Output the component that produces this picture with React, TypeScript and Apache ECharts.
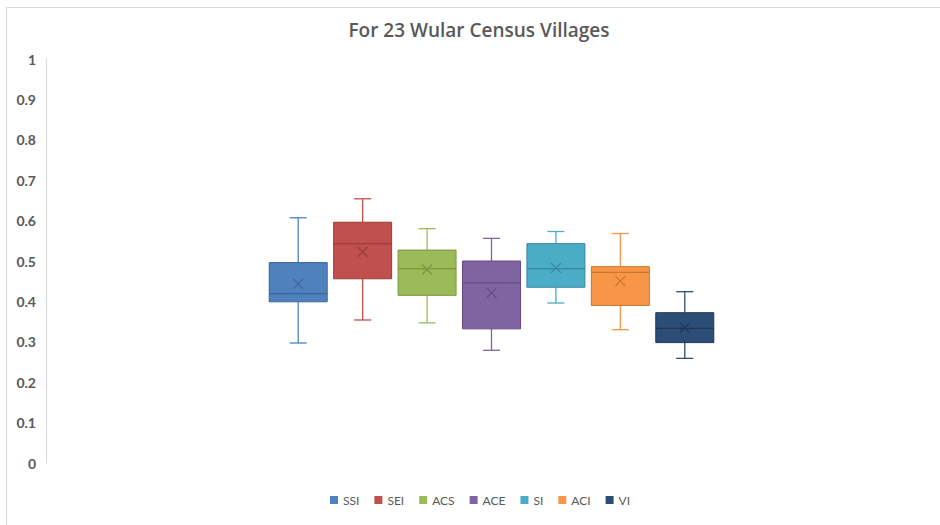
import React, { useEffect, useRef } from "react";
import * as echarts from "echarts";

const categories = ["SSI", "SEI", "ACS", "ACE", "SI", "ACI", "VI"];
// [min, q1, median, q3, max, mean]
const minValues = [0.297, 0.354, 0.347, 0.279, 0.396, 0.330, 0.259];
const q1Values = [0.399, 0.456, 0.415, 0.332, 0.435, 0.390, 0.298];
const medianValues = [0.419, 0.543, 0.481, 0.446, 0.481, 0.472, 0.333];
const q3Values = [0.496, 0.596, 0.527, 0.500, 0.543, 0.486, 0.372];
const maxValues = [0.607, 0.654, 0.580, 0.556, 0.573, 0.568, 0.424];
const meanValues = [0.444, 0.523, 0.479, 0.421, 0.483, 0.450, 0.335];
const yTicks = [0, 0.1, 0.2, 0.3, 0.4, 0.5, 0.6, 0.7, 0.8, 0.9, 1];

const fillColors = ["#4F81BD", "#C0504D", "#9BBB59", "#8064A2", "#4BACC6", "#F79646", "#2C4D75"];
const darkColors = ["#3A6597", "#9D3B38", "#7A9642", "#634B82", "#35889E", "#C9762F", "#1E3654"];

export default function App() {
  const ref = useRef<HTMLDivElement>(null);
  useEffect(() => {
    if (!ref.current) return;
    const chart = echarts.init(ref.current, null, { renderer: "svg" });
    const series: any[] = categories.map((name, i) => ({
      name,
      type: "custom",
      itemStyle: { color: fillColors[i], borderColor: darkColors[i] },
      encode: { x: 0, y: [1, 2, 3, 4, 5, 6] },
      data: [[i, minValues[i], q1Values[i], medianValues[i], q3Values[i], maxValues[i], meanValues[i]]],
      renderItem: (params: any, api: any) => {
        const idx = api.value(0);
        const cx = api.coord([idx, 0])[0];
        const band = api.size([1, 0])[0];
        const w = band * 0.9;
        const yMin = api.coord([idx, api.value(1)])[1];
        const yQ1 = api.coord([idx, api.value(2)])[1];
        const yMed = api.coord([idx, api.value(3)])[1];
        const yQ3 = api.coord([idx, api.value(4)])[1];
        const yMax = api.coord([idx, api.value(5)])[1];
        const yMean = api.coord([idx, api.value(6)])[1];
        const c = fillColors[i];
        const d = darkColors[i];
        const cap = 8.5;
        const xs = 5;
        const lw = 1.3;
        return {
          type: "group",
          children: [
            { type: "line", shape: { x1: cx, y1: yMax, x2: cx, y2: yQ3 }, style: { stroke: c, lineWidth: lw } },
            { type: "line", shape: { x1: cx, y1: yQ1, x2: cx, y2: yMin }, style: { stroke: c, lineWidth: lw } },
            { type: "line", shape: { x1: cx - cap, y1: yMax, x2: cx + cap, y2: yMax }, style: { stroke: c, lineWidth: lw } },
            { type: "line", shape: { x1: cx - cap, y1: yMin, x2: cx + cap, y2: yMin }, style: { stroke: c, lineWidth: lw } },
            { type: "rect", shape: { x: cx - w / 2, y: yQ3, width: w, height: yQ1 - yQ3 }, style: { fill: c, stroke: d, lineWidth: 1 } },
            { type: "line", shape: { x1: cx - w / 2, y1: yMed, x2: cx + w / 2, y2: yMed }, style: { stroke: d, lineWidth: 1.3 } },
            { type: "line", shape: { x1: cx - xs, y1: yMean - xs, x2: cx + xs, y2: yMean + xs }, style: { stroke: d, lineWidth: 1.2 } },
            { type: "line", shape: { x1: cx - xs, y1: yMean + xs, x2: cx + xs, y2: yMean - xs }, style: { stroke: d, lineWidth: 1.2 } },
          ],
        };
      },
    }));

    chart.setOption({
      animation: false,
      backgroundColor: "#ffffff",
      textStyle: { fontFamily: "Lato" },
      title: {
        text: "For 23 Wular Census Villages",
        left: 474,
        textAlign: "center",
        top: 15,
        textStyle: { fontFamily: "Open Sans", fontSize: 19, fontWeight: 600, color: "#595959" },
      },
      legend: {
        data: categories,
        top: 489,
        left: 325,
        icon: "rect",
        itemWidth: 8,
        itemHeight: 8,
        itemGap: 15,
        textStyle: { fontFamily: "Lato", fontSize: 12, color: "#595959" },
      },
      grid: { left: 266, right: 223, top: 59, bottom: 62 },
      xAxis: {
        type: "category",
        data: categories,
        axisLine: { show: false },
        axisTick: { show: false },
        axisLabel: { show: false },
        splitLine: { show: false },
      },
      yAxis: {
        type: "value",
        min: yTicks[0],
        max: yTicks[yTicks.length - 1],
        interval: 0.1,
        offset: 220,
        axisLine: { show: true, lineStyle: { color: "#D9D9D9", width: 1 } },
        axisTick: { show: false },
        splitLine: { show: false },
        axisLabel: {
          margin: 10,
          fontFamily: "Lato",
          fontSize: 14,
          fontWeight: "bold",
          color: "#595959",
          formatter: (v: number) => String(Math.round(v * 10) / 10),
        },
      },
      graphic: [
        { type: "line", shape: { x1: 6, y1: 7.5, x2: 940, y2: 7.5 }, style: { stroke: "#D9D9D9", lineWidth: 1 } },
        { type: "line", shape: { x1: 6.5, y1: 7, x2: 6.5, y2: 525 }, style: { stroke: "#D9D9D9", lineWidth: 1 } },
      ],
      series,
    });
    return () => chart.dispose();
  }, []);
  return (
    <div
      ref={ref}
      style={{ position: "fixed", left: 0, top: 0, width: 940, height: 525 }}
    />
  );
}
